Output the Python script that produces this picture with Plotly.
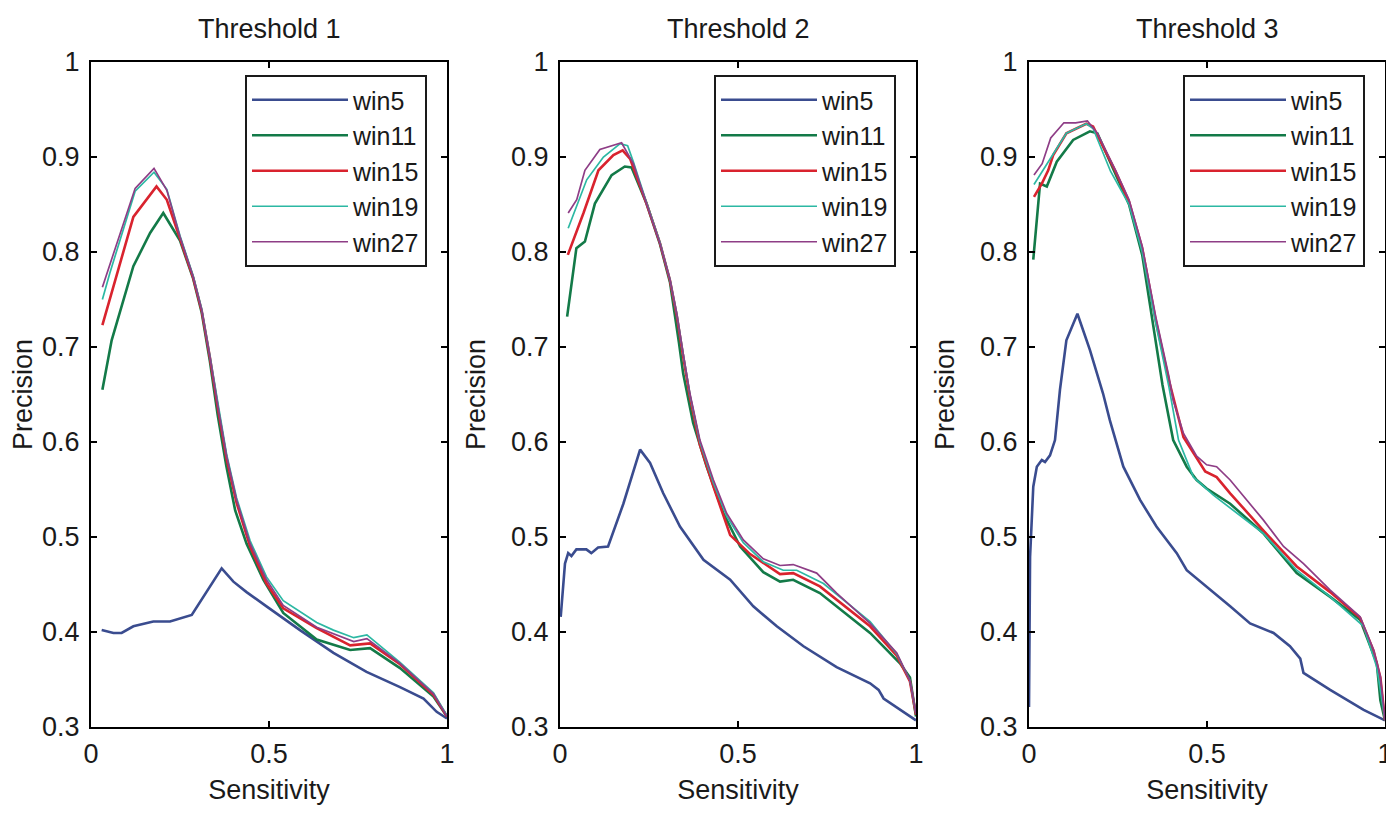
import plotly.graph_objects as go
from plotly.subplots import make_subplots

# precision / sensitivity curves, one list per series
series_names = ["win5", "win11", "win15", "win19", "win27"]
panel_titles = ["Threshold 1", "Threshold 2", "Threshold 3"]

#%% Threshold 1
t1_win5_x = [0.030, 0.063, 0.086, 0.119, 0.175, 0.222, 0.283, 0.367, 0.400, 0.437, 0.493, 0.587, 0.681, 0.774, 0.868, 0.934, 0.971, 1.0]
t1_win5_y = [0.402, 0.399, 0.399, 0.406, 0.411, 0.411, 0.418, 0.467, 0.453, 0.442, 0.427, 0.402, 0.378, 0.358, 0.342, 0.330, 0.316, 0.309]
t1_win11_x = [0.032, 0.058, 0.119, 0.166, 0.203, 0.250, 0.287, 0.311, 0.334, 0.356, 0.380, 0.405, 0.437, 0.484, 0.540, 0.634, 0.728, 0.784, 0.868, 0.962, 1.0]
t1_win11_y = [0.655, 0.707, 0.785, 0.820, 0.841, 0.812, 0.772, 0.736, 0.685, 0.628, 0.575, 0.528, 0.493, 0.455, 0.420, 0.392, 0.381, 0.383, 0.362, 0.332, 0.311]
t1_win15_x = [0.032, 0.119, 0.184, 0.213, 0.250, 0.287, 0.311, 0.334, 0.358, 0.381, 0.409, 0.447, 0.493, 0.540, 0.634, 0.728, 0.784, 0.868, 0.962, 1.0]
t1_win15_y = [0.723, 0.837, 0.869, 0.855, 0.814, 0.773, 0.738, 0.689, 0.632, 0.582, 0.536, 0.490, 0.451, 0.425, 0.404, 0.386, 0.388, 0.366, 0.334, 0.311]
t1_win19_x = [0.032, 0.053, 0.124, 0.177, 0.213, 0.250, 0.287, 0.311, 0.334, 0.358, 0.381, 0.409, 0.447, 0.493, 0.540, 0.634, 0.681, 0.738, 0.775, 0.868, 0.962, 1.0]
t1_win19_y = [0.750, 0.778, 0.864, 0.884, 0.866, 0.817, 0.775, 0.740, 0.691, 0.636, 0.587, 0.541, 0.496, 0.458, 0.433, 0.410, 0.402, 0.394, 0.397, 0.368, 0.336, 0.312]
t1_win27_x = [0.032, 0.053, 0.124, 0.177, 0.213, 0.250, 0.287, 0.311, 0.334, 0.358, 0.381, 0.409, 0.447, 0.493, 0.540, 0.634, 0.738, 0.775, 0.868, 0.962, 1.0]
t1_win27_y = [0.763, 0.787, 0.867, 0.888, 0.865, 0.816, 0.774, 0.739, 0.690, 0.634, 0.585, 0.539, 0.493, 0.455, 0.428, 0.405, 0.390, 0.393, 0.367, 0.335, 0.311]

#%% Threshold 2
t2_win5_x = [0.002, 0.014, 0.023, 0.032, 0.046, 0.074, 0.088, 0.107, 0.135, 0.178, 0.225, 0.253, 0.290, 0.337, 0.403, 0.478, 0.543, 0.609, 0.684, 0.777, 0.871, 0.895, 0.909, 0.965, 1.0]
t2_win5_y = [0.416, 0.472, 0.483, 0.480, 0.487, 0.487, 0.483, 0.489, 0.490, 0.535, 0.592, 0.578, 0.546, 0.511, 0.476, 0.455, 0.427, 0.406, 0.385, 0.363, 0.346, 0.339, 0.330, 0.316, 0.307]
t2_win11_x = [0.020, 0.046, 0.070, 0.098, 0.145, 0.182, 0.201, 0.243, 0.281, 0.309, 0.334, 0.346, 0.374, 0.412, 0.459, 0.506, 0.571, 0.618, 0.655, 0.730, 0.871, 0.955, 0.983, 1.0]
t2_win11_y = [0.732, 0.804, 0.811, 0.851, 0.881, 0.890, 0.889, 0.851, 0.808, 0.768, 0.705, 0.672, 0.620, 0.574, 0.525, 0.490, 0.463, 0.453, 0.455, 0.441, 0.399, 0.367, 0.352, 0.311]
t2_win15_x = [0.022, 0.066, 0.108, 0.150, 0.176, 0.197, 0.243, 0.281, 0.309, 0.328, 0.346, 0.365, 0.393, 0.431, 0.478, 0.534, 0.618, 0.655, 0.730, 0.871, 0.946, 0.983, 1.0]
t2_win15_y = [0.797, 0.841, 0.886, 0.902, 0.907, 0.898, 0.851, 0.809, 0.770, 0.733, 0.690, 0.647, 0.597, 0.553, 0.502, 0.482, 0.461, 0.462, 0.448, 0.406, 0.375, 0.348, 0.313]
t2_win19_x = [0.023, 0.075, 0.122, 0.169, 0.190, 0.206, 0.243, 0.281, 0.309, 0.328, 0.346, 0.365, 0.393, 0.431, 0.468, 0.515, 0.571, 0.627, 0.665, 0.740, 0.871, 0.946, 0.983, 1.0]
t2_win19_y = [0.825, 0.876, 0.900, 0.914, 0.912, 0.895, 0.852, 0.810, 0.771, 0.735, 0.693, 0.650, 0.600, 0.557, 0.522, 0.494, 0.474, 0.465, 0.465, 0.451, 0.411, 0.377, 0.349, 0.314]
t2_win27_x = [0.023, 0.047, 0.070, 0.112, 0.173, 0.206, 0.243, 0.281, 0.309, 0.328, 0.346, 0.365, 0.393, 0.431, 0.468, 0.515, 0.571, 0.618, 0.655, 0.721, 0.777, 0.871, 0.946, 0.983, 1.0]
t2_win27_y = [0.841, 0.855, 0.886, 0.908, 0.915, 0.893, 0.851, 0.809, 0.771, 0.735, 0.693, 0.651, 0.602, 0.560, 0.525, 0.497, 0.477, 0.470, 0.471, 0.462, 0.441, 0.409, 0.378, 0.349, 0.314]

#%% Threshold 3
t3_win5_x = [0.0, 0.003, 0.012, 0.022, 0.036, 0.045, 0.059, 0.073, 0.087, 0.105, 0.136, 0.171, 0.208, 0.227, 0.265, 0.312, 0.358, 0.415, 0.443, 0.499, 0.565, 0.621, 0.687, 0.733, 0.762, 0.771, 0.846, 0.940, 1.0]
t3_win5_y = [0.321, 0.479, 0.553, 0.574, 0.581, 0.579, 0.586, 0.602, 0.655, 0.707, 0.735, 0.697, 0.651, 0.623, 0.574, 0.539, 0.511, 0.483, 0.465, 0.448, 0.427, 0.409, 0.399, 0.385, 0.372, 0.357, 0.339, 0.318, 0.307]
t3_win11_x = [0.012, 0.031, 0.050, 0.078, 0.124, 0.171, 0.192, 0.243, 0.281, 0.318, 0.350, 0.375, 0.405, 0.443, 0.471, 0.499, 0.565, 0.658, 0.752, 0.846, 0.930, 0.977, 0.987, 1.0]
t3_win11_y = [0.792, 0.872, 0.869, 0.895, 0.918, 0.927, 0.925, 0.883, 0.850, 0.797, 0.722, 0.660, 0.602, 0.574, 0.560, 0.551, 0.535, 0.504, 0.462, 0.437, 0.413, 0.367, 0.328, 0.307]
t3_win15_x = [0.014, 0.036, 0.054, 0.068, 0.105, 0.161, 0.180, 0.243, 0.281, 0.318, 0.356, 0.393, 0.434, 0.495, 0.527, 0.565, 0.658, 0.752, 0.846, 0.930, 0.968, 0.987, 1.0]
t3_win15_y = [0.858, 0.872, 0.886, 0.902, 0.925, 0.935, 0.932, 0.885, 0.853, 0.804, 0.728, 0.665, 0.605, 0.569, 0.563, 0.546, 0.507, 0.469, 0.442, 0.415, 0.380, 0.352, 0.307]
t3_win19_x = [0.014, 0.059, 0.105, 0.161, 0.180, 0.229, 0.281, 0.318, 0.356, 0.393, 0.420, 0.462, 0.518, 0.658, 0.752, 0.846, 0.940, 0.977, 1.0]
t3_win19_y = [0.871, 0.897, 0.925, 0.935, 0.930, 0.885, 0.850, 0.800, 0.725, 0.658, 0.602, 0.563, 0.544, 0.504, 0.465, 0.437, 0.406, 0.363, 0.307]
t3_win27_x = [0.014, 0.037, 0.061, 0.098, 0.131, 0.164, 0.192, 0.243, 0.281, 0.318, 0.356, 0.393, 0.405, 0.434, 0.471, 0.499, 0.527, 0.565, 0.658, 0.715, 0.771, 0.846, 0.930, 0.968, 0.987, 1.0]
t3_win27_y = [0.881, 0.893, 0.920, 0.936, 0.936, 0.938, 0.925, 0.886, 0.855, 0.806, 0.732, 0.669, 0.644, 0.609, 0.585, 0.576, 0.574, 0.560, 0.518, 0.490, 0.472, 0.444, 0.416, 0.381, 0.353, 0.307]

panels = [
    [(t1_win5_x, t1_win5_y), (t1_win11_x, t1_win11_y), (t1_win15_x, t1_win15_y), (t1_win19_x, t1_win19_y), (t1_win27_x, t1_win27_y)],
    [(t2_win5_x, t2_win5_y), (t2_win11_x, t2_win11_y), (t2_win15_x, t2_win15_y), (t2_win19_x, t2_win19_y), (t2_win27_x, t2_win27_y)],
    [(t3_win5_x, t3_win5_y), (t3_win11_x, t3_win11_y), (t3_win15_x, t3_win15_y), (t3_win19_x, t3_win19_y), (t3_win27_x, t3_win27_y)],
]

colors = ["#3a4c8f", "#137a48", "#d9232e", "#2cb8a3", "#8e3d86"]
widths = [2.6, 2.6, 2.6, 1.7, 1.7]
FONT = "Liberation Sans, Arial, sans-serif"
TXT = "#1a1a1a"

# the page body adds an 8px margin, so the figure is drawn 8px in from the corner
OFF = 8
W, H = 1394 - OFF, 820 - OFF

fig = make_subplots(rows=1, cols=3)

# plot areas in screen pixels (left, right), shared top/bottom
x_px = [(91, 447), (560, 916), (1029, 1385)]
top_px, bot_px = 62, 727
legend_names = ["legend", "legend2", "legend3"]

for p, curves in enumerate(panels):
    for k, (xs, ys) in enumerate(curves):
        fig.add_trace(go.Scatter(x=xs, y=ys, mode="lines", name=series_names[k],
                                 line=dict(color=colors[k], width=widths[k]),
                                 legend=legend_names[p]),
                      row=1, col=p + 1)

axis_common = dict(showline=True, linecolor="black", linewidth=2, mirror="ticks",
                   ticks="inside", ticklen=6, tickwidth=2, tickcolor="black",
                   showgrid=False, zeroline=False, automargin=False,
                   tickfont=dict(family=FONT, size=27, color=TXT))

for p in range(3):
    l, r = x_px[p]
    fig.update_xaxes(domain=[(l - OFF) / W, (r - OFF) / W], range=[0, 1],
                     tickvals=[0, 0.5, 1], ticktext=["0", "0.5", "1"],
                     ticklabelstandoff=2,
                     title=dict(text="Sensitivity", standoff=12,
                                font=dict(family=FONT, size=27, color=TXT)),
                     **axis_common, row=1, col=p + 1)
    fig.update_yaxes(domain=[1 - (bot_px - OFF) / H, 1 - (top_px - OFF) / H], range=[0.3, 1],
                     tickvals=[0.3, 0.4, 0.5, 0.6, 0.7, 0.8, 0.9, 1],
                     ticktext=["0.3", "0.4", "0.5", "0.6", "0.7", "0.8", "0.9", "1"],
                     ticklabelstandoff=4,
                     title=dict(text="Precision", standoff=18,
                                font=dict(family=FONT, size=27, color=TXT)),
                     **axis_common, row=1, col=p + 1)
    fig.add_annotation(text=panel_titles[p], x=((l + r) / 2 - OFF) / W, y=1 - (29 - OFF) / H,
                       xref="paper", yref="paper", showarrow=False,
                       xanchor="center", yanchor="middle",
                       font=dict(family=FONT, size=27, color=TXT))

legend_style = dict(xanchor="left", yanchor="top", bgcolor="white",
                    bordercolor=TXT, borderwidth=2, itemwidth=96,
                    font=dict(family=FONT, size=25, color=TXT),
                    tracegroupgap=0)
fig.update_layout(
    width=W, height=H, template="none",
    paper_bgcolor="white", plot_bgcolor="white",
    margin=dict(l=0, r=0, t=0, b=0),
    showlegend=True,
    legend=dict(x=(245 - OFF) / W, y=1 - (75 - OFF) / H, **legend_style),
    legend2=dict(x=(714 - OFF) / W, y=1 - (75 - OFF) / H, **legend_style),
    legend3=dict(x=(1183 - OFF) / W, y=1 - (75 - OFF) / H, **legend_style),
)

fig.write_html("out.html")
